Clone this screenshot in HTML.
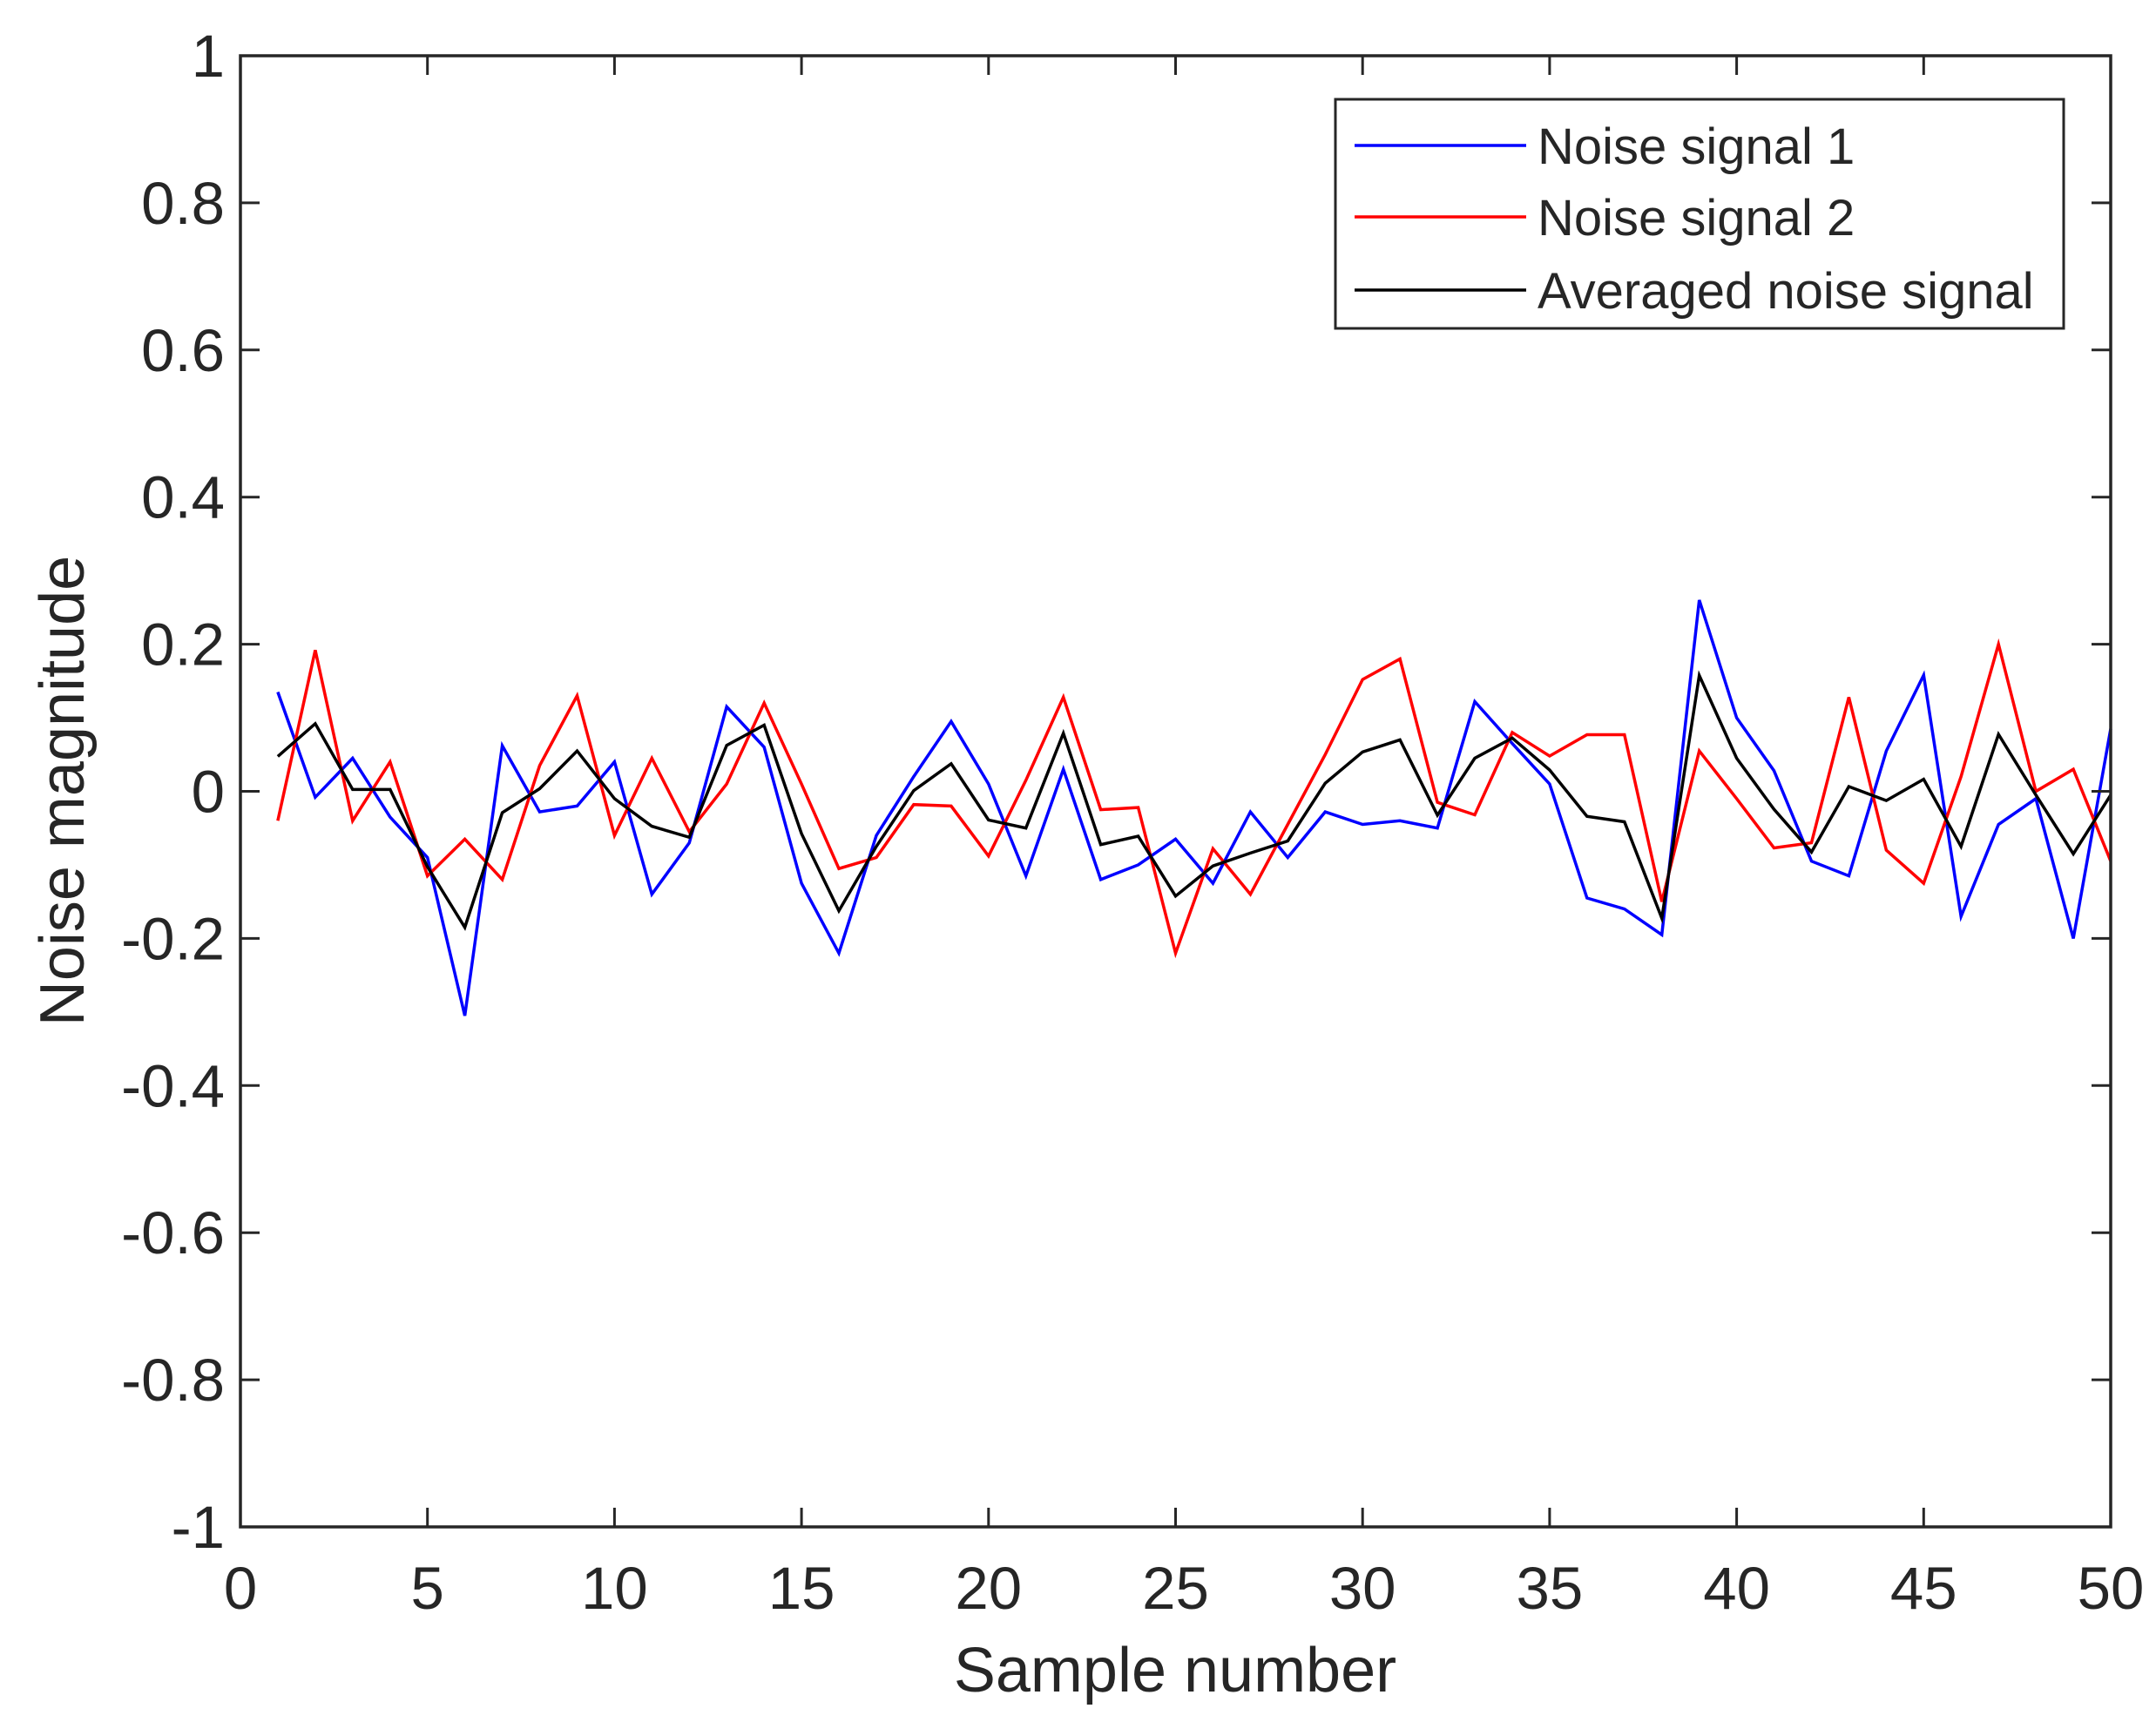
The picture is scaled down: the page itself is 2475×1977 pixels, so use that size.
<!DOCTYPE html>
<html><head><meta charset="utf-8"><style>
html,body{margin:0;padding:0;background:#fff}
svg{display:block}
text{font-family:"Liberation Sans",Arial,sans-serif;fill:#262626}
</style></head><body>
<svg id="s" width="2475" height="1977" viewBox="0 0 2475 1977" xmlns="http://www.w3.org/2000/svg"></svg>
<script>
const L=276,R=2423,T=64,B=1753;
const X=v=>L+(R-L)*v/50, Y=v=>T+(B-T)*(1-v)/2;
const blue=[0.135,-0.008,0.045,-0.035,-0.09,-0.305,0.062,-0.028,-0.02,0.04,-0.14,-0.07,0.115,0.06,-0.125,-0.22,-0.06,0.02,0.095,0.01,-0.115,0.03,-0.12,-0.1,-0.065,-0.125,-0.028,-0.09,-0.028,-0.045,-0.04,-0.05,0.122,0.065,0.01,-0.145,-0.16,-0.195,0.26,0.1,0.028,-0.095,-0.115,0.055,0.158,-0.17,-0.045,-0.01,-0.2,0.085];
const red=[-0.04,0.192,-0.04,0.04,-0.115,-0.065,-0.12,0.035,0.13,-0.06,0.045,-0.055,0.01,0.12,0.01,-0.105,-0.09,-0.018,-0.02,-0.088,0.015,0.128,-0.025,-0.022,-0.22,-0.078,-0.14,-0.045,0.05,0.152,0.18,-0.015,-0.032,0.08,0.048,0.077,0.077,-0.15,0.055,-0.01,-0.077,-0.07,0.128,-0.08,-0.125,0.02,0.2,0,0.03,-0.095];
const avg=blue.map((b,i)=>(b+red[i])/2);
let h='';
const path=(d,c)=>'<polyline fill="none" stroke="'+c+'" stroke-width="3.5" stroke-linejoin="miter" points="'+d.map((v,i)=>X(i+1).toFixed(1)+','+Y(v).toFixed(1)).join(' ')+'"/>';
h+=path(blue,'#0000ff')+path(red,'#ff0000')+path(avg,'#000000');
h+='<rect x="'+L+'" y="'+T+'" width="'+(R-L)+'" height="'+(B-T)+'" fill="none" stroke="#262626" stroke-width="3.5"/>';
for(let i=0;i<=10;i++){const x=X(i*5);
 h+='<line x1="'+x+'" y1="'+B+'" x2="'+x+'" y2="'+(B-22)+'" stroke="#262626" stroke-width="3"/>';
 h+='<line x1="'+x+'" y1="'+T+'" x2="'+x+'" y2="'+(T+22)+'" stroke="#262626" stroke-width="3"/>';
 h+='<text x="'+x+'" y="1847" font-size="69" text-anchor="middle">'+(i*5)+'</text>';}
for(let i=0;i<=10;i++){const v=-1+i*0.2,y=Y(v);
 h+='<line x1="'+L+'" y1="'+y+'" x2="'+(L+22)+'" y2="'+y+'" stroke="#262626" stroke-width="3"/>';
 h+='<line x1="'+R+'" y1="'+y+'" x2="'+(R-22)+'" y2="'+y+'" stroke="#262626" stroke-width="3"/>';
 let s=Math.abs(v)<1e-9?'0':(Math.abs(Math.abs(v)-1)<1e-9?(v<0?'-1':'1'):v.toFixed(1));
 h+='<text x="258" y="'+(y+24)+'" font-size="69" text-anchor="end">'+s+'</text>';}
h+='<text x="1349" y="1942" font-size="72" text-anchor="middle">Sample number</text>';
h+='<text x="0" y="0" font-size="72" text-anchor="middle" transform="translate(96,908) rotate(-90)">Noise magnitude</text>';
h+='<rect x="1533" y="114" width="836" height="263" fill="#fff" stroke="#262626" stroke-width="3"/>';
const lg=[['Noise signal 1','#0000ff',167],['Noise signal 2','#ff0000',249],['Averaged noise signal','#000000',333]];
lg.forEach(([t,c,y])=>{h+='<line x1="1555" y1="'+y+'" x2="1752" y2="'+y+'" stroke="'+c+'" stroke-width="3.5"/>';
 h+='<text x="1765" y="'+(y+21)+'" font-size="58">'+t+'</text>';});
document.getElementById('s').innerHTML=h;
</script>
</body></html>
